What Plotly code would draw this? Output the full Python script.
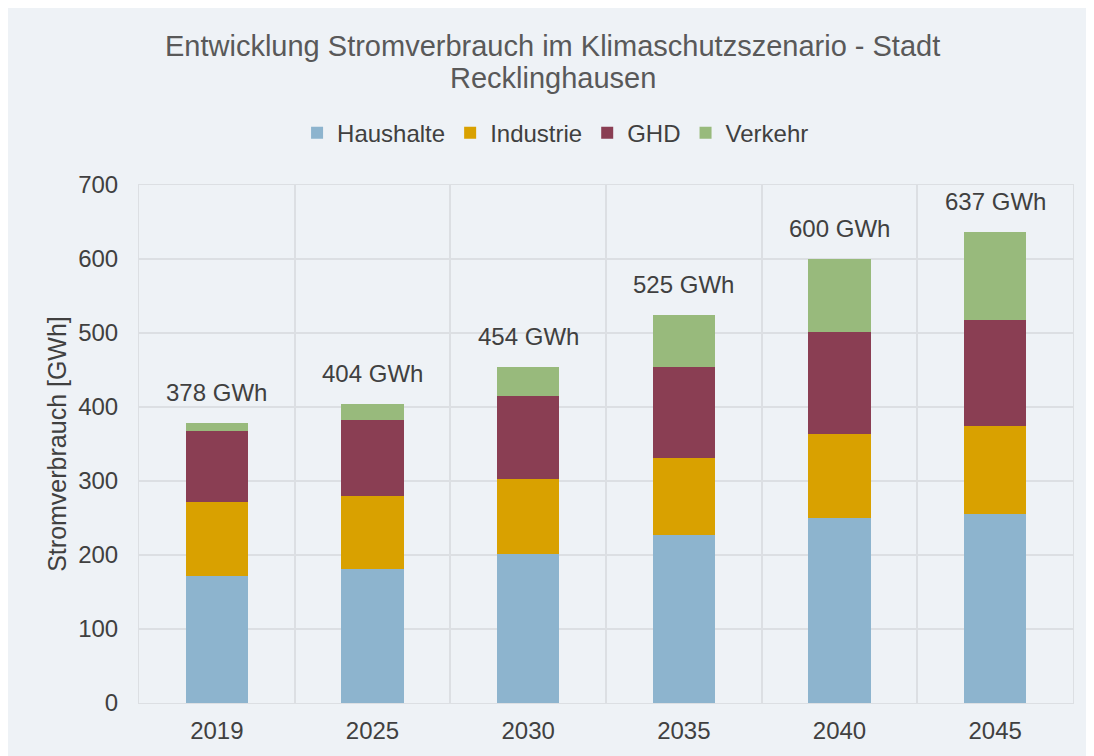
import plotly.graph_objects as go

years = ["2019", "2025", "2030", "2035", "2040", "2045"]
haushalte = [171, 181, 202, 227, 250, 256]
industrie = [100, 99, 101, 104, 114, 119]
ghd = [96, 103, 112, 123, 138, 142]
verkehr = [11, 21, 39, 71, 98, 120]
totals = [378, 404, 454, 525, 600, 637]
total_labels = [f"{t} GWh" for t in totals]
title_lines = ["Entwicklung Stromverbrauch im Klimaschutzszenario - Stadt", "Recklinghausen"]

series = [
    ("Haushalte", haushalte, "#8DB4CE"),
    ("Industrie", industrie, "#D9A100"),
    ("GHD", ghd, "#8A3E53"),
    ("Verkehr", verkehr, "#98BA7C"),
]

FONT = "Liberation Sans"
TXT = "#404040"

fig = go.Figure()
for name, vals, col in series:
    fig.add_trace(go.Bar(x=years, y=vals, name=name, marker_color=col,
                         marker_line_width=0, width=0.4))

for i, (tot, lab) in enumerate(zip(totals, total_labels)):
    fig.add_annotation(x=i, y=tot, xref="x", yref="y", text=lab, showarrow=False,
                       yanchor="bottom", yshift=15,
                       font=dict(family=FONT, size=24, color=TXT))

for ty, line in zip([1.268, 1.207], title_lines):
    fig.add_annotation(x=0.443, y=ty, xref="paper", yref="paper", text=line,
                       showarrow=False, xanchor="center", yanchor="middle",
                       font=dict(family=FONT, size=29, color="#595959"))

bg = "#EEF2F6"
grid = "#DCDFE3"
fig.update_layout(
    barmode="stack",
    width=1086, height=748,
    paper_bgcolor=bg, plot_bgcolor=bg,
    font=dict(family=FONT, color=TXT, size=24),
    legend=dict(orientation="h", x=0.446, xanchor="center", y=1.100, yanchor="middle",
                font=dict(family=FONT, size=24, color=TXT), traceorder="normal",
                itemwidth=30, bgcolor="rgba(0,0,0,0)"),
    margin=dict(l=131, r=21, t=177, b=49),
    bargap=0.6,
)
fig.update_xaxes(type="category", tickson="boundaries", showgrid=True, gridcolor=grid,
                 gridwidth=1.5, showline=True, linecolor=grid, mirror=True,
                 ticks="", ticklabelstandoff=6, tickfont=dict(family=FONT, size=24, color=TXT))
fig.update_yaxes(range=[0, 700], dtick=100, showgrid=True, gridcolor=grid, gridwidth=1.5,
                 zeroline=False, showline=True, linecolor=grid, mirror=True,
                 ticks="", ticklabelstandoff=15,
                 tickfont=dict(family=FONT, size=24, color=TXT),
                 title=dict(text="Stromverbrauch [GWh]", font=dict(family=FONT, size=25, color=TXT),
                            standoff=4))

fig.write_html("out.html")
